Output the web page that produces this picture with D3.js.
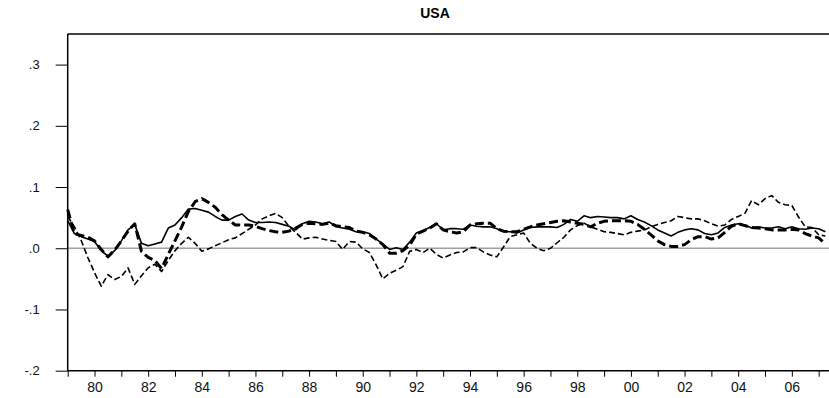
<!DOCTYPE html>
<html>
<head>
<meta charset="utf-8">
<script src="https://cdn.jsdelivr.net/npm/d3@7"></script>
<style>
	body { margin: 0; background: #fff; }
	text { font-family: "Liberation Sans", Arial, sans-serif; }
</style>
</head>
<body>
<svg id="js-chart" width="829" height="398"></svg>
<script>

// quarterly, 1979Q1 onwards
const startYear = 1979;

const solid = [
	0.045, 0.024, 0.019, 0.015, 0.011, -0.004, -0.013, -0.004, 0.012, 0.030,
	0.039, 0.008, 0.004, 0.007, 0.010, 0.033, 0.038, 0.050, 0.064, 0.065,
	0.062, 0.059, 0.052, 0.046, 0.046, 0.052, 0.056, 0.046, 0.042, 0.042,
	0.043, 0.042, 0.039, 0.036, 0.030, 0.040, 0.044, 0.043, 0.040, 0.043,
	0.035, 0.033, 0.031, 0.027, 0.027, 0.024, 0.015, 0.007, -0.002, 0.001,
	-0.002, 0.010, 0.025, 0.029, 0.034, 0.040, 0.030, 0.032, 0.032, 0.031,
	0.038, 0.036, 0.035, 0.035, 0.032, 0.027, 0.027, 0.025, 0.030, 0.034,
	0.035, 0.035, 0.035, 0.034, 0.039, 0.047, 0.044, 0.053, 0.050, 0.052,
	0.051, 0.050, 0.050, 0.048, 0.053, 0.047, 0.043, 0.037, 0.030, 0.025,
	0.020, 0.026, 0.030, 0.032, 0.030, 0.024, 0.022, 0.025, 0.034, 0.038,
	0.040, 0.038, 0.033, 0.035, 0.033, 0.033, 0.035, 0.032, 0.035, 0.032,
	0.031, 0.033, 0.032, 0.027
];

const thickDash = [
	0.063, 0.024, 0.021, 0.018, 0.012, -0.002, -0.014, -0.003, 0.012, 0.028,
	0.040, -0.005, -0.015, -0.020, -0.033, -0.010, 0.012, 0.035, 0.060, 0.076,
	0.081, 0.075, 0.067, 0.055, 0.046, 0.038, 0.038, 0.038, 0.036, 0.032,
	0.029, 0.027, 0.026, 0.028, 0.033, 0.039, 0.041, 0.040, 0.039, 0.041,
	0.037, 0.035, 0.034, 0.028, 0.026, 0.022, 0.015, 0.006, -0.008, -0.008,
	-0.004, 0.005, 0.023, 0.028, 0.033, 0.040, 0.030, 0.027, 0.025, 0.027,
	0.038, 0.040, 0.041, 0.041, 0.032, 0.028, 0.027, 0.027, 0.031, 0.035,
	0.038, 0.040, 0.042, 0.044, 0.045, 0.043, 0.041, 0.039, 0.035, 0.041,
	0.044, 0.045, 0.045, 0.045, 0.044, 0.039, 0.031, 0.022, 0.012, 0.006,
	0.003, 0.003, 0.006, 0.014, 0.019, 0.019, 0.015, 0.017, 0.026, 0.036,
	0.040, 0.037, 0.034, 0.033, 0.032, 0.030, 0.030, 0.030, 0.031, 0.030,
	0.024, 0.020, 0.017, 0.007
];

const thinDash = [
	0.052, 0.035, 0.013, -0.015, -0.040, -0.062, -0.043, -0.051, -0.046, -0.032,
	-0.059, -0.045, -0.032, -0.026, -0.038, -0.020, -0.004, 0.008, 0.018, 0.008,
	-0.005, -0.001, 0.004, 0.009, 0.014, 0.017, 0.024, 0.031, 0.038, 0.048,
	0.053, 0.057, 0.050, 0.036, 0.026, 0.015, 0.017, 0.018, 0.015, 0.013,
	0.011, -0.002, 0.011, 0.010, -0.001, -0.007, -0.027, -0.050, -0.041, -0.036,
	-0.030, -0.005, -0.002, -0.007, 0.000, -0.010, -0.016, -0.011, -0.007, -0.006,
	0.001, 0.001, -0.006, -0.011, -0.014, 0.002, 0.019, 0.022, 0.025, 0.008,
	0.000, -0.004, 0.000, 0.009, 0.018, 0.030, 0.037, 0.041, 0.035, 0.031,
	0.027, 0.026, 0.024, 0.022, 0.026, 0.028, 0.030, 0.035, 0.039, 0.042,
	0.045, 0.052, 0.050, 0.048, 0.048, 0.045, 0.040, 0.036, 0.038, 0.047,
	0.052, 0.057, 0.078, 0.071, 0.081, 0.086, 0.075, 0.071, 0.070, 0.051,
	0.035, 0.034, 0.022, 0.020
];

const yTicks = [-0.2, -0.1, 0.0, 0.1, 0.2, 0.3];
const xTicks = d3.range(1979, 2008);

// layout
const plotLeft = 67.7;
const plotRight = 831;
const plotTop = 34;
const plotBottom = 370.7;

const svg = d3.select('#js-chart');

const x = d3.scaleLinear()
	.domain([1979, 1979 + (plotRight - plotLeft) / 26.82])
	.range([plotLeft, plotRight]);

const y = d3.scaleLinear()
	.domain([-0.2, 0.35])
	.range([plotBottom, plotTop]);

const toDate = (i) => startYear + i / 4;

// zero line
svg.append('line')
	.attr('x1', plotLeft).attr('x2', plotRight)
	.attr('y1', y(0)).attr('y2', y(0))
	.attr('stroke', '#a0a0a0')
	.attr('stroke-width', 1.5);

const line = d3.line()
	.x((d, i) => x(toDate(i)))
	.y(d => y(d));

const series = [
	{ values: thinDash, width: 1.6, dash: '6,3' },
	{ values: thickDash, width: 3, dash: '9,4' },
	{ values: solid, width: 1.6, dash: null },
];

svg.append('g')
	.selectAll('path')
	.data(series)
	.join('path')
	.attr('d', d => line(d.values))
	.attr('fill', 'none')
	.attr('stroke', '#000')
	.attr('stroke-width', d => d.width)
	.attr('stroke-dasharray', d => d.dash)
	.attr('stroke-linejoin', 'round');

// frame: top border
svg.append('line')
	.attr('x1', plotLeft).attr('x2', plotRight)
	.attr('y1', plotTop).attr('y2', plotTop)
	.attr('stroke', '#000')
	.attr('stroke-width', 1.5);

// axes
const fmtY = (v) => v.toFixed(1).replace('0.', '.');

const yAxis = svg.append('g')
	.attr('transform', `translate(${plotLeft},0)`)
	.call(d3.axisLeft(y).tickValues(yTicks).tickSize(12).tickPadding(16).tickFormat(fmtY));

yAxis.select('.domain')
	.attr('d', `M0,${plotTop}V${plotBottom}`)
	.attr('stroke-width', 1.5);

yAxis.selectAll('.tick line').attr('stroke-width', 1);

yAxis.selectAll('.tick text')
	.attr('font-size', 13)
	.attr('fill', '#111');

const xAxis = svg.append('g')
	.attr('transform', `translate(0,${plotBottom})`)
	.call(d3.axisBottom(x)
		.tickValues(xTicks)
		.tickSize(6)
		.tickPadding(5)
		.tickFormat(d => d % 2 === 0 ? String(d % 100).padStart(2, '0') : ''));

xAxis.select('.domain')
	.attr('d', `M${plotLeft},0H${plotRight}`)
	.attr('stroke-width', 1.5);

xAxis.selectAll('.tick line').attr('stroke-width', 1);

xAxis.selectAll('.tick text')
	.attr('font-size', 14)
	.attr('fill', '#111');

// title
svg.append('text')
	.attr('x', 435)
	.attr('y', 18)
	.attr('text-anchor', 'middle')
	.attr('font-size', 14)
	.attr('font-weight', 'bold')
	.text('USA');

</script>
</body>
</html>
